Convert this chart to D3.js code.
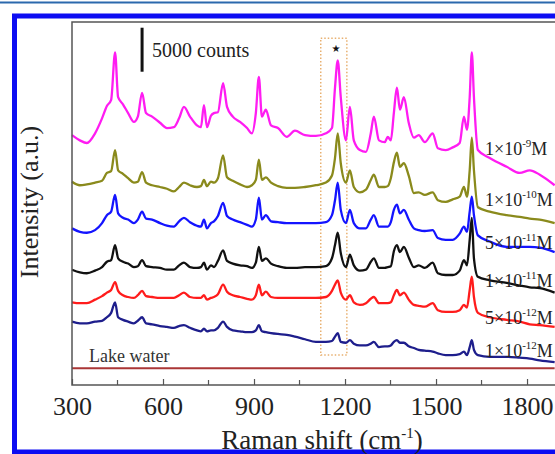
<!DOCTYPE html>
<html>
<head>
<meta charset="utf-8">
<script src="https://cdn.jsdelivr.net/npm/d3@7"></script>
<style>
  body { margin: 0; background: #fff; }
  svg { display: block; font-family: "Liberation Serif", "Times New Roman", serif; }
</style>
</head>
<body>
<svg id="chart" width="555" height="454"></svg>
<script>
// Raman shift (cm-1), shared by every spectrum
var shift = [300, 326, 349, 376, 399, 415, 429, 442, 452, 468,
  485, 504, 517, 531, 544, 564, 590, 613, 636, 653,
  669, 689, 712, 725, 735, 745, 758, 768, 781, 798,
  811, 830, 854, 877, 893, 906, 916, 926, 939, 956,
  979, 1008, 1035, 1068, 1104, 1137, 1157, 1167, 1176, 1186,
  1203, 1216, 1229, 1249, 1269, 1285, 1295, 1312, 1331, 1341,
  1351, 1361, 1371, 1381, 1394, 1410, 1427, 1443, 1463, 1489,
  1506, 1532, 1555, 1578, 1592, 1602, 1611, 1618, 1625, 1638,
  1677, 1733, 1776, 1809, 1842, 1891];

// intensities, thousands of counts, stacked with offsets as plotted
var c1e9 = [28.4, 27.8, 27.5, 28.6, 30.3, 31.7, 32.4, 37.8, 32.7, 31.9,
  30.9, 29.9, 30.5, 33.2, 30.9, 30.5, 29.8, 29.2, 29.3, 30.3,
  31.6, 30.5, 29.5, 29.3, 31.8, 29.3, 30.6, 30.9, 31.0, 34.3,
  31.6, 30.5, 29.9, 29.2, 28.6, 30.9, 35.0, 30.5, 31.3, 29.5,
  29.2, 28.2, 28.9, 28.4, 28.3, 28.6, 29.2, 33.8, 36.9, 32.7,
  27.8, 31.6, 27.8, 26.7, 26.5, 28.6, 30.5, 27.8, 27.6, 28.2,
  27.8, 30.9, 33.8, 31.3, 32.7, 29.8, 28.1, 28.4, 27.6, 28.6,
  26.9, 26.7, 27.0, 27.5, 30.5, 29.0, 32.7, 37.8, 32.7, 26.7,
  25.8, 24.8, 24.1, 24.4, 23.9, 22.7];
var c1e10 = [23.1, 22.7, 22.8, 23.0, 23.2, 24.1, 24.3, 26.7, 24.4, 24.0,
  23.5, 23.0, 23.1, 24.2, 23.0, 22.7, 22.5, 22.3, 22.0, 22.5,
  23.0, 22.7, 22.5, 22.6, 23.3, 22.6, 23.1, 23.0, 23.5, 26.1,
  23.6, 23.2, 22.8, 22.5, 22.7, 23.3, 25.6, 23.3, 23.6, 23.0,
  22.6, 22.4, 22.4, 22.5, 22.7, 23.0, 23.8, 25.8, 28.6, 25.2,
  23.0, 24.4, 22.5, 21.9, 22.2, 23.3, 23.9, 22.5, 22.5, 22.6,
  23.5, 25.3, 26.4, 24.8, 25.2, 23.8, 21.8, 21.9, 21.6, 21.9,
  21.0, 20.8, 21.1, 21.4, 22.5, 21.4, 24.4, 28.1, 24.4, 20.2,
  19.7, 19.3, 19.1, 18.9, 18.8, 18.4];
var c5e11 = [17.8, 17.4, 17.3, 17.6, 18.4, 19.3, 19.7, 21.6, 19.5, 19.0,
  18.8, 18.4, 18.8, 19.7, 18.9, 18.8, 18.4, 18.1, 18.0, 18.6,
  19.0, 18.5, 18.1, 18.0, 18.8, 17.8, 18.4, 18.6, 19.2, 20.7,
  19.2, 18.8, 18.5, 18.2, 18.0, 18.8, 21.3, 18.8, 19.3, 18.6,
  18.5, 18.4, 18.4, 18.4, 18.4, 18.5, 19.3, 21.0, 23.0, 19.9,
  18.4, 19.9, 18.4, 17.8, 17.8, 18.8, 19.3, 18.0, 18.0, 18.0,
  18.5, 19.9, 20.5, 19.5, 19.9, 18.8, 17.8, 17.6, 17.5, 17.6,
  16.7, 16.5, 16.5, 17.2, 18.0, 17.4, 19.7, 21.4, 19.3, 17.0,
  16.3, 15.7, 15.7, 15.7, 15.6, 15.1];
var c1e11 = [13.1, 12.8, 12.7, 13.0, 13.4, 14.0, 14.2, 15.9, 14.4, 14.0,
  13.8, 13.4, 13.5, 14.2, 13.5, 13.4, 13.3, 13.1, 13.1, 13.6,
  13.9, 13.4, 13.3, 13.4, 13.9, 13.1, 13.6, 13.4, 14.1, 15.3,
  14.1, 13.8, 13.6, 13.5, 13.3, 13.9, 15.7, 14.1, 14.4, 13.8,
  13.5, 13.3, 13.3, 13.4, 13.4, 13.5, 14.4, 15.9, 17.3, 15.0,
  13.4, 14.8, 13.6, 13.0, 13.1, 14.0, 14.4, 13.3, 13.3, 13.4,
  13.5, 15.2, 15.9, 15.1, 15.7, 14.5, 13.4, 13.6, 13.3, 13.9,
  12.7, 12.5, 12.5, 13.0, 14.2, 13.6, 16.5, 19.0, 14.4, 12.3,
  11.9, 11.6, 11.3, 11.1, 11.0, 10.5];
var c5e12 = [9.4, 9.3, 9.3, 9.7, 10.1, 10.5, 10.8, 11.7, 10.7, 10.2,
  10.0, 9.9, 10.2, 10.7, 10.1, 10.0, 9.9, 9.9, 9.9, 10.2,
  10.5, 10.0, 9.9, 9.9, 10.2, 9.7, 9.9, 10.0, 10.3, 11.4,
  10.6, 10.2, 10.0, 9.8, 9.7, 10.2, 11.4, 10.2, 10.6, 10.0,
  9.9, 9.9, 9.9, 9.9, 9.9, 10.0, 10.7, 11.4, 11.9, 10.5,
  9.7, 10.2, 9.4, 9.1, 9.3, 9.8, 10.0, 9.3, 9.3, 9.3,
  9.4, 10.2, 10.8, 10.2, 10.5, 9.7, 9.1, 9.0, 8.9, 9.3,
  8.5, 8.3, 8.3, 8.5, 9.1, 8.8, 10.8, 12.3, 10.0, 8.2,
  7.7, 7.4, 7.2, 6.9, 6.8, 6.6];
var c1e12 = [7.2, 7.0, 7.0, 7.2, 7.3, 7.7, 8.2, 9.4, 7.7, 7.4,
  7.2, 7.0, 7.3, 7.7, 7.0, 6.9, 6.7, 6.6, 6.5, 6.7,
  6.8, 6.5, 6.2, 6.1, 6.4, 6.1, 6.2, 6.2, 6.5, 7.2,
  6.6, 6.2, 6.1, 6.0, 6.0, 6.2, 6.8, 6.1, 6.0, 5.9,
  5.8, 5.7, 5.5, 5.2, 4.9, 4.9, 5.0, 5.5, 5.9, 4.9,
  4.8, 5.1, 4.7, 4.5, 4.5, 4.7, 4.9, 4.3, 4.4, 4.4,
  4.5, 4.9, 5.1, 4.8, 4.8, 4.4, 4.2, 4.0, 3.9, 3.8,
  3.6, 3.4, 3.4, 3.5, 3.8, 3.4, 4.3, 5.1, 4.0, 3.4,
  3.2, 3.2, 3.1, 3.0, 2.8, 2.6];
var lakeShift = [300, 1891];
var lakeWater = [1.9, 1.9];

var xTicks = [300, 600, 900, 1200, 1500, 1800];
var xMinor = [450, 750, 1050, 1350, 1650, 1950];
var concMantissa = ["1", "1", "5", "1", "5", "1"];
var concExponent = ["-9", "-10", "-11", "-11", "-12", "-12"];
var highlightShift = [1120, 1206];
var highlightRange = [3.4, 39.4];
var scaleBarShift = 531;
var scaleBarRange = [35.6, 40.6];   // 5000 counts

var svg = d3.select("#chart"),
    x = d3.scaleLinear().domain([300, 2000]).range([72, 587.7]),
    y = d3.scaleLinear().domain([0, 41.25]).range([385, 22]);

// page frame of the original figure
svg.append("line").attr("x1", 0).attr("x2", 555).attr("y1", 2.5).attr("y2", 2.5)
    .attr("stroke", "#2b69ad").attr("stroke-width", 2);
svg.append("rect").attr("x", 14.5).attr("y", 16).attr("width", 600).attr("height", 436)
    .attr("fill", "none").attr("stroke", "#0d0df2").attr("stroke-width", 5);

// dotted highlight round the 1176 band
svg.append("rect")
    .attr("x", x(highlightShift[0])).attr("y", y(highlightRange[1]))
    .attr("width", x(highlightShift[1]) - x(highlightShift[0]))
    .attr("height", y(highlightRange[0]) - y(highlightRange[1]))
    .attr("fill", "none").attr("stroke", "#e8b070").attr("stroke-width", 1.5)
    .attr("stroke-dasharray", "1.5,2");
svg.append("text").attr("x", x(1170)).attr("y", 52).attr("text-anchor", "middle")
    .attr("font-family", "DejaVu Sans").attr("font-size", 10).attr("fill", "#111").text("★");

var line = d3.line()
    .curve(d3.curveMonotoneX)
    .x(function(d) { return x(d[0]); })
    .y(function(d) { return y(d[1]); });

var spectra = [
  { v: c1e9, color: "#ff1cf2" },
  { v: c1e10, color: "#8a8a1c" },
  { v: c5e11, color: "#1414ff" },
  { v: c1e11, color: "#111111" },
  { v: c5e12, color: "#ff1c1c" },
  { v: c1e12, color: "#1e1e8c" }
];

spectra.forEach(function(s) {
  svg.append("path")
      .datum(shift.map(function(w, i) { return [w, s.v[i]]; }))
      .attr("fill", "none")
      .attr("stroke", s.color)
      .attr("stroke-width", 2.3)
      .attr("stroke-linejoin", "round")
      .attr("d", line);
});

svg.append("path")
    .datum(lakeShift.map(function(w, i) { return [w, lakeWater[i]]; }))
    .attr("fill", "none").attr("stroke", "#aa3636").attr("stroke-width", 2)
    .attr("d", line);

// plot frame
svg.append("rect")
    .attr("x", x(300)).attr("y", y(41.25))
    .attr("width", x(2000) - x(300)).attr("height", y(0) - y(41.25))
    .attr("fill", "none").attr("stroke", "#555").attr("stroke-width", 1.5);

var xAxis = svg.append("g")
    .attr("transform", "translate(0," + y(0) + ")")
    .call(d3.axisBottom(x).tickValues(xTicks).tickSize(-6).tickPadding(12)
      .tickFormat(d3.format("d")));
xAxis.select(".domain").remove();
xAxis.selectAll(".tick line").attr("stroke", "#555").attr("stroke-width", 1.2);
xAxis.selectAll(".tick text").attr("font-size", 26).attr("fill", "#222")
    .attr("font-family", "Liberation Serif, serif");

svg.append("g").selectAll("line")
    .data(xMinor).enter().append("line")
    .attr("x1", function(d) { return x(d); }).attr("x2", function(d) { return x(d); })
    .attr("y1", y(0)).attr("y2", y(0) - 5)
    .attr("stroke", "#555").attr("stroke-width", 1.2);

// axis titles
var xt = svg.append("text").attr("x", 322).attr("y", 449).attr("text-anchor", "middle")
    .attr("font-size", 27).attr("fill", "#222");
xt.append("tspan").text("Raman shift (cm");
xt.append("tspan").attr("dy", -11).attr("font-size", 15).text("-1");
xt.append("tspan").attr("dy", 11).text(")");

svg.append("text").attr("transform", "translate(38,202) rotate(-90)")
    .attr("text-anchor", "middle").attr("font-size", 26).attr("fill", "#222")
    .text("Intensity (a.u.)");

// scale bar
svg.append("line")
    .attr("x1", x(scaleBarShift)).attr("x2", x(scaleBarShift))
    .attr("y1", y(scaleBarRange[0])).attr("y2", y(scaleBarRange[1]))
    .attr("stroke", "#111").attr("stroke-width", 3);
svg.append("text").attr("x", 152).attr("y", 57).attr("font-size", 20).attr("fill", "#222")
    .text("5000 counts");

// concentration labels
var labelBase = [155, 206, 249, 287, 324, 357];
concMantissa.forEach(function(m, i) {
  var t = svg.append("text").attr("x", 485).attr("y", labelBase[i])
      .attr("font-size", 18).attr("fill", "#222");
  t.append("tspan").text(m + "×10");
  t.append("tspan").attr("dy", -8).attr("font-size", 11).text(concExponent[i]);
  t.append("tspan").attr("dy", 8).text("M");
});

svg.append("text").attr("x", 89).attr("y", 362).attr("font-size", 18).attr("fill", "#333")
    .text("Lake water");
</script>
</body>
</html>
